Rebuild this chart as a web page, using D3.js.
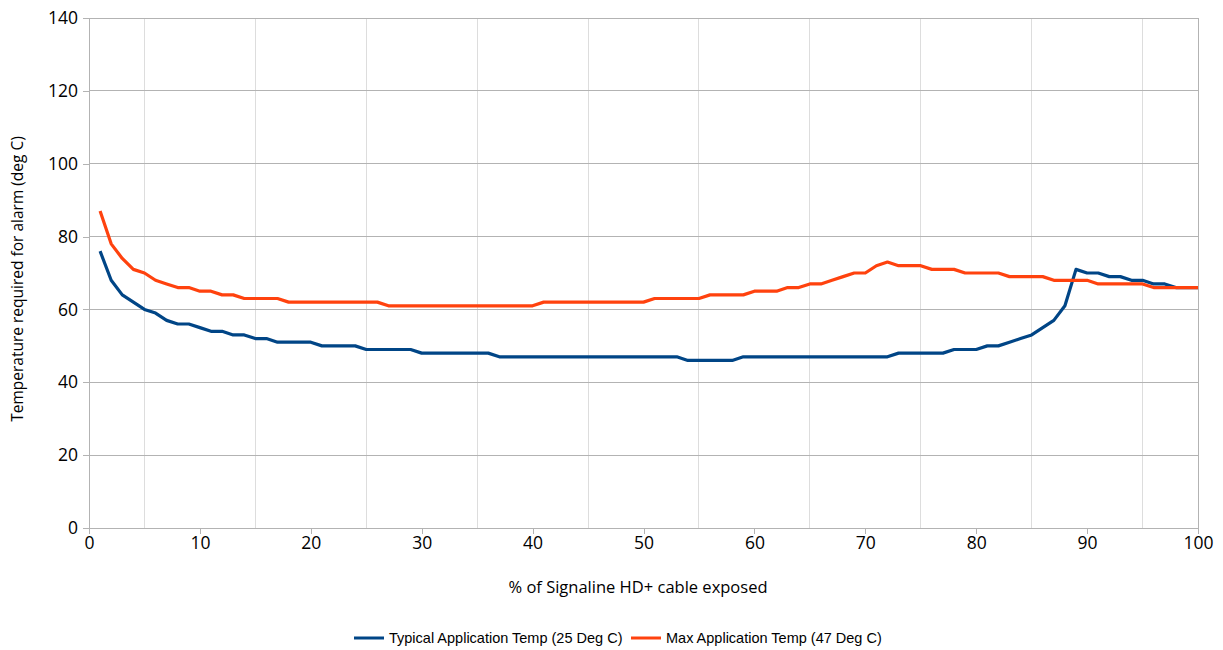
<!DOCTYPE html>
<html><head><meta charset="utf-8">
<script src="https://cdn.jsdelivr.net/npm/d3@7"></script>
<style>body{margin:0;background:#fff;}svg{display:block;}</style>
</head><body>
<svg id="chart" width="1223" height="650"></svg>
<script>
const xValues = d3.range(1, 101);
const typicalTemp = [76,68,64,62,60,59,57,56,56,55,54,54,53,53,52,52,51,51,51,51,
  50,50,50,50,49,49,49,49,49,48,48,48,48,48,48,48,47,47,47,47,
  47,47,47,47,47,47,47,47,47,47,47,47,47,46,46,46,46,46,47,47,
  47,47,47,47,47,47,47,47,47,47,47,47,48,48,48,48,48,49,49,49,
  50,50,51,52,53,55,57,61,71,70,70,69,69,68,68,67,67,66,66,66];
const maxTemp = [87,78,74,71,70,68,67,66,66,65,65,64,64,63,63,63,63,62,62,62,
  62,62,62,62,62,62,61,61,61,61,61,61,61,61,61,61,61,61,61,61,
  62,62,62,62,62,62,62,62,62,62,63,63,63,63,63,64,64,64,64,65,
  65,65,66,66,67,67,68,69,70,70,72,73,72,72,72,71,71,71,70,70,
  70,70,69,69,69,69,68,68,68,68,67,67,67,67,67,66,66,66,66,66];
const seriesNames = ["Typical Application Temp (25 Deg C)", "Max Application Temp (47 Deg C)"];
const seriesColors = ["#004586", "#ff420e"];
const xTicks = d3.range(0, 101, 10);
const xGrid = d3.range(5, 100, 10);
const yTicks = d3.range(0, 141, 20);

const svg = d3.select("#chart");
const L = 89, R = 1198, T = 18, B = 528;
const x = d3.scaleLinear().domain([0, 100]).range([L, R]);
const y = d3.scaleLinear().domain([0, 140]).range([B, T]);

// vertical grid (light)
svg.append("g").selectAll("line").data(xGrid.concat([100])).join("line")
  .attr("x1", d => x(d)).attr("x2", d => x(d)).attr("y1", T).attr("y2", B)
  .attr("stroke", d => d === 100 ? "#b3b3b3" : "#dddddd").attr("stroke-width", 1)
  .attr("shape-rendering", "crispEdges");
// horizontal grid
svg.append("g").selectAll("line").data(yTicks.filter(d => d > 0)).join("line")
  .attr("x1", L).attr("x2", R).attr("y1", d => y(d)).attr("y2", d => y(d))
  .attr("stroke", "#b3b3b3").attr("stroke-width", 1).attr("shape-rendering", "crispEdges");

// axes
const yAxis = svg.append("g").attr("transform", `translate(${L},0)`)
  .call(d3.axisLeft(y).tickValues(yTicks).tickSize(6).tickPadding(5));
const xAxis = svg.append("g").attr("transform", `translate(0,${B})`)
  .call(d3.axisBottom(x).tickValues(xTicks).tickSize(6).tickPadding(3));
[yAxis, xAxis].forEach(a => {
  a.select(".domain").attr("stroke", "#b3b3b3").attr("shape-rendering", "crispEdges");
  a.selectAll(".tick line").attr("stroke", "#b3b3b3").attr("shape-rendering", "crispEdges");
  a.selectAll("text").attr("font-family", "'Open Sans', 'Noto Sans', sans-serif")
    .attr("font-size", 17.5).attr("fill", "#000");
});

// lines
const line = d3.line().x((d, i) => x(xValues[i])).y(d => y(d));
[typicalTemp, maxTemp].forEach((s, k) => {
  svg.append("path").datum(s).attr("d", line).attr("fill", "none")
    .attr("stroke", seriesColors[k]).attr("stroke-width", 3.2)
    .attr("stroke-linejoin", "round");
});

// axis titles
svg.append("text").attr("transform", `translate(23,279) rotate(-90)`)
  .attr("text-anchor", "middle").attr("font-family", "'Open Sans', 'Noto Sans', sans-serif")
  .attr("font-size", 15.5).text("Temperature required for alarm (deg C)");
svg.append("text").attr("x", 638).attr("y", 593)
  .attr("text-anchor", "middle").attr("font-family", "'Open Sans', 'Noto Sans', sans-serif")
  .attr("font-size", 16.5).text("% of Signaline HD+ cable exposed");

// legend
const legendX = [354, 631];
seriesNames.forEach((n, k) => {
  const g = svg.append("g").attr("transform", `translate(${legendX[k]},638)`);
  g.append("line").attr("x1", 0).attr("x2", 30).attr("y1", 0).attr("y2", 0)
    .attr("stroke", seriesColors[k]).attr("stroke-width", 3);
  g.append("text").attr("x", 35).attr("y", 5).attr("font-family", "'Liberation Sans', Arial, sans-serif")
    .attr("font-size", 14.5).text(n);
});
</script>
</body></html>
